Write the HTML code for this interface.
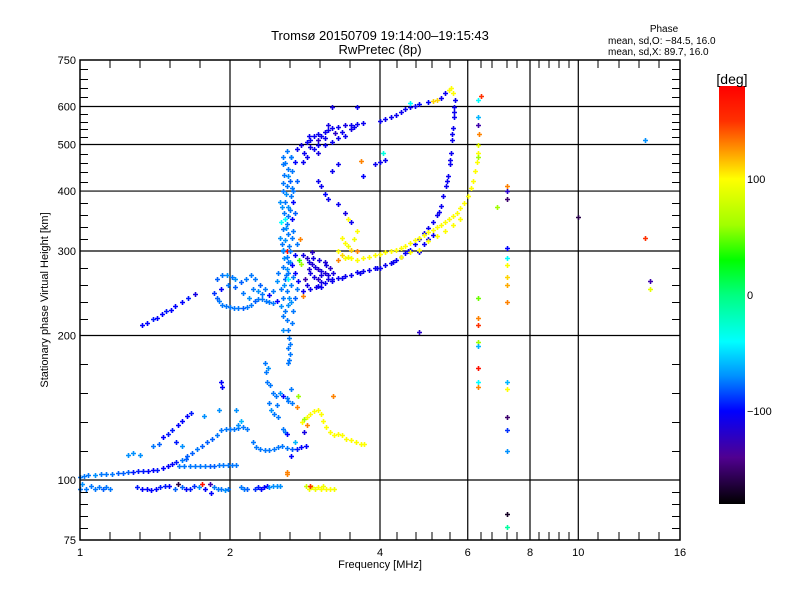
<!DOCTYPE html>
<html><head><meta charset="utf-8"><style>
body{margin:0;background:#fff;}
svg{display:block;font-family:"Liberation Sans",sans-serif;}
text{fill:#000;}
</style></head><body>
<svg id="chart" width="800" height="600" viewBox="0 0 800 600">
<rect width="800" height="600" fill="#fff"/>
<text x="380" y="40" font-size="13" text-anchor="middle">Tromsø 20150709 19:14:00–19:15:43</text>
<text x="380" y="54" font-size="13" text-anchor="middle">RwPretec (8p)</text>
<text x="664" y="32" font-size="10" text-anchor="middle">Phase</text>
<text x="608" y="44" font-size="10">mean, sd,O: −84.5, 16.0</text>
<text x="608" y="55" font-size="10">mean, sd,X:  89.7, 16.0</text>
<text x="380" y="568" font-size="11" text-anchor="middle">Frequency [MHz]</text>
<text transform="translate(48,300) rotate(-90)" font-size="11" text-anchor="middle">Stationary phase Virtual Height [km]</text>
<g id="grid"></g>
<g id="marks"></g>
<g id="axes"></g>
<defs><linearGradient id="cbg" x1="0" y1="1" x2="0" y2="0"></linearGradient></defs>
<rect x="719" y="86" width="26" height="418" fill="url(#cbg)"/>
<text x="732" y="84" font-size="14" text-anchor="middle">[deg]</text>
<g id="cbticks"></g>
</svg>
<script>
const xTickVals=[1,2,4,6,8,10,16];
const xGridVals=[2,4,6,8,10];
const yTickVals=[75,100,200,300,400,500,600,750];
const yGridVals=[100,200,300,400,500,600];
const cbarVals=[100,0,-100];
const eLow=[[1.0,96,-75],[1.01,98,-70],[1.03,96,-75],[1.05,97,-75],[1.07,96,-75],[1.09,96.5,-75],[1.11,96,-80],[1.13,96.5,-75],[1.15,96,-75],[1.3,96.5,-95],[1.33,96,-100],[1.36,96,-100],[1.39,95.5,-100],[1.42,96,-100],[1.45,96.5,-95],[1.48,97,-95],[1.51,97,-100],[1.55,96,-80],[1.6,96.5,-80],[1.63,96,-100],[1.66,96,-95],[1.69,97,-90],[1.73,96.5,-70],[1.78,96,-100],[1.86,96.5,-75],[1.89,96,-75],[1.92,96,-75],[1.95,95.5,-70],[1.98,96,-75],[2.1,96.5,-75],[2.13,96,-75],[2.16,96,-80],[2.25,96,-90],[2.28,96.5,-95],[2.31,96,-100],[2.34,96.5,-100],[2.37,97,-100],[2.40,96.5,-70],[2.44,97,-70],[2.48,97,-70],[2.52,97,-70],[1.57,98,-160],[1.76,98,170],[1.82,98,-130],[1.83,94,-100],
[2.84,97,80],[2.88,96,95],[2.92,96.5,95],[2.96,96,95],[3.0,96.5,100],[3.04,96,100],[3.08,97,95],[3.12,96,100],[3.18,96,100],[3.24,96,95],[2.9,97,150]];
const eTrace=[[1.0,101.5,-75],[1.02,102,-75],[1.04,102.5,-75],[1.07,102.5,-70],[1.1,103,-75],[1.13,103,-75],[1.16,103,-75],[1.19,103.5,-80],[1.22,103.5,-80],[1.25,104,-80],[1.28,104,-95],[1.31,104.5,-95],[1.34,104.5,-95],[1.37,104.5,-100],[1.4,105,-100],[1.43,105,-95],[1.47,106,-100],[1.5,107,-100],[1.53,108,-100],[1.56,109,-95],[1.6,110,-75],[1.63,110.5,-80],
[1.58,107,-75],[1.62,107,-75],[1.66,107,-75],[1.7,107,-75],[1.74,107,-75],[1.78,107,-75],[1.82,107,-80],[1.86,107,-80],[1.9,107.5,-75],[1.94,107.5,-75],[1.98,107.5,-75],[2.02,107.5,-75],[2.06,107.5,-75],
[1.64,112,-80],[1.68,114,-80],[1.72,116,-75],[1.76,118,-80],[1.8,120,-80],[1.84,122,-80],[1.88,124,-75],[1.92,127,-75],[1.96,128,-75],[2.0,128,-75],[2.04,128,-75],[2.08,128.5,-75],[2.12,129,-75],[2.16,128,-75],[2.22,120,-75],[2.26,117,-75],[2.3,116,-75],[2.35,115.5,-75],[2.4,115.5,-75],[2.45,116,-75],[2.5,117,-75],[2.54,118,-75],[2.6,116.5,-75],[2.66,116,-80],[2.72,116,-95],[2.78,117,-100],[2.84,118,-100],
[1.25,113,-70],[1.28,114,-70],[1.32,113,-70],[1.4,118,-75],[1.44,119,-80],[1.47,123,-100],[1.5,125,-95],[1.53,127,-95],[1.57,130,-100],[1.6,133,-100],[1.64,136,-100],[1.67,138,-95],[1.56,120,-95],[1.6,118,-70]];
const eColumn=[[2.35,175,-75],[2.36,168,-75],[2.37,160,-75],[2.4,145,-75],[2.42,140,-70],[2.45,137,-75],[2.5,135,-75],[2.55,128,-75],[2.58,126,-75],[2.6,125,-100],[2.44,152,-75],[2.47,150,-75],[2.52,152,-70],[2.56,150,-100],[2.6,148,-75],[2.62,146,-75],[2.65,155,-75],[2.66,145,-75],
[2.62,205,-75],[2.63,198,-75],[2.64,192,-75],[2.62,188,-75],[2.64,183,-75],[2.63,178,-75],[2.61,175,-75],
[1.92,160,-100],[1.93,156,-100],[2.08,130,-70],[2.1,133,-60],[2.06,140,-70],[1.77,136,-70],[1.9,140,-70],[2.7,120,-60],[2.82,126,-110],[2.74,150,60],[2.65,112,-100],[2.38,171,-70],[2.41,158,-75],[2.49,143,-75]];
const eYellow=[[2.79,132,100],[2.82,134,60],[2.86,135,100],[2.9,137,100],[2.95,139,100],[3.0,140,100],[3.04,137,100],[3.08,133,100],[3.12,129,100],[3.18,126,100],[3.24,124,100],[3.3,125,100],[3.36,124,100],[3.42,122,100],[3.5,121,100],[3.58,120,100],[3.66,119,100],[3.72,119,100],[2.85,130,130],[2.72,142,130],[2.6,103,130],[2.6,104,130],[3.22,150,130]];
const fLow=[[1.33,210,-100],[1.36,212,-100],[1.4,217,-95],[1.43,218,-100],[1.46,222,-100],[1.49,225,-95],[1.52,226,-100],[1.55,230,-100],[1.6,235,-100],[1.65,240,-95],[1.7,244,-110],
[1.86,245,-90],[1.88,240,-80],[1.9,236,-75],[1.93,232,-75],[1.96,230,-75],[2.0,229,-75],[2.04,228,-75],[2.08,228,-75],[2.12,228,-80],[2.16,229,-75],[2.2,232,-75],[2.24,236,-80],[2.28,238,-75],[2.32,238,-75],[2.36,236,-75],[2.4,235,-75],[2.44,234,-75],[2.48,236,-100],
[1.88,262,-80],[1.93,268,-75],[1.97,268,-70],[2.02,265,-75],[2.05,262,-70],[2.1,258,-80],[2.15,262,-75],[2.2,268,-75],[2.25,262,-75],[2.3,255,-80],[2.35,250,-75],[2.22,250,-75],[2.28,248,-70],[1.98,255,-75],[2.05,252,-80],[1.92,250,-100],[2.4,243,-100],[2.12,245,-75],[2.18,240,-70],[2.32,244,-75],[2.44,248,-75]];
const fColumn=[[2.55,205,-70],[2.6,215,-75],[2.58,225,-75],[2.62,232,-70],[2.55,240,-75],[2.6,248,-75],[2.65,255,-75],[2.58,262,-80],[2.62,270,-75],[2.56,278,-75],[2.64,285,-70],[2.6,292,-75],[2.55,300,-75],[2.63,308,-75],[2.58,316,-70],[2.62,325,-75],[2.55,333,-75],[2.6,342,-75],[2.66,350,-100],[2.57,360,-75],[2.62,370,-70],[2.58,380,-75],[2.65,390,-75],[2.55,400,-75],[2.6,410,-75],[2.64,420,-80],[2.57,432,-75],[2.62,445,-75],[2.58,458,-75],[2.55,470,-75],[2.6,485,-75],[2.7,295,-100],[2.72,310,-75],[2.68,330,-75],[2.7,360,-80],[2.66,280,-100],[2.7,270,-100],[2.74,260,-100],[2.52,320,-70],[2.52,380,-70],[2.68,400,-75],[2.72,420,-80],[2.66,440,-75],[2.7,460,-100],[2.53,250,-75],[2.5,270,-75],[2.48,260,-70],[2.67,225,-75],[2.7,240,-80],[2.57,290,-70],[2.6,300,170],[2.62,262,-40],[2.58,350,-40],[2.53,345,-40],[2.56,302,-70],[2.64,300,-75],[2.6,275,-70],[2.57,255,-70],[2.63,240,-70],[2.56,220,-75],[2.53,230,-70],[2.59,335,-70],[2.61,355,-75],[2.54,370,-70],[2.59,395,-70],[2.61,430,-70],[2.55,455,-75],[2.65,470,-70],[2.78,282,60],[2.76,318,130],[2.8,242,130],[2.75,288,40],
[2.66,212,-75],[2.68,265,-75],[2.66,320,-75],[2.54,310,-75],[2.64,365,-75],[2.68,380,-100],[2.56,415,-75],[2.66,405,-75],[2.59,268,-75],[2.61,284,-75],[2.72,250,-75],[2.65,235,-70]];
const fCluster=[[2.8,295,-110],[2.85,290,-120],[2.88,285,-110],[2.92,282,-115],[2.96,278,-110],[3.0,275,-120],[3.05,272,-110],[3.1,270,-115],[3.15,268,-110],[2.9,270,-110],[2.95,265,-110],[3.0,262,-120],[3.05,268,-110],[3.12,280,-110],[3.18,276,-120],[3.22,270,-110],[2.83,262,-130],[2.86,255,-110],[3.05,258,-110],[3.2,262,-105],[2.92,298,-120],[3.02,288,-110],[3.1,284,-115],[2.97,252,-110],[2.88,275,-115],[3.14,262,-110],[2.94,290,-110]];
const fMainO=[[2.8,248,-105],[2.9,250,-105],[3.0,254,-105],[3.1,257,-105],[3.2,260,-105],[3.3,263,-105],[3.4,266,-105],[3.5,268,-105],[3.6,271,-105],[3.7,273,-105],[3.8,274,-105],[3.9,276,-105],[4.0,277,-105],[4.1,280,-105],[4.2,283,-105],[4.3,288,-105],[4.4,292,-105],[4.5,297,-105],[4.6,302,-105],[4.7,310,-105],[4.8,318,-105],[4.9,327,-105],[5.0,335,-105],[5.1,345,-105],[5.2,357,-105],[5.3,372,-105],[5.36,390,-105],[5.42,410,-105],[5.48,430,-105],[5.52,455,-105],[5.56,480,-105],[5.58,510,-105],[5.6,540,-105],[5.62,570,-105],[5.64,600,-105],[5.66,620,-105],[4.9,310,-105],[5.0,318,-105],[5.1,324,-105],[4.8,298,-105],[3.05,252,-105],[3.35,264,-105],[3.65,270,-105],[3.95,277,-105],[4.25,285,-105],[4.55,300,-105],[5.25,362,-105],[5.45,420,-105],[5.54,465,-105],[5.59,525,-105],[5.63,585,-105]];
const fMainX=[[3.3,300,100],[3.35,295,110],[3.4,290,100],[3.45,292,95],[3.5,290,100],[3.6,287,100],[3.7,290,100],[3.8,292,100],[3.9,294,100],[4.0,296,100],[4.1,298,100],[4.2,300,100],[4.3,302,100],[4.4,305,100],[4.5,308,100],[4.6,312,100],[4.7,316,100],[4.8,320,100],[4.9,324,100],[5.0,328,100],[5.1,332,100],[5.2,336,100],[5.3,340,100],[5.4,345,100],[5.5,350,100],[5.6,355,100],[5.7,360,100],[5.8,368,100],[5.9,378,100],[6.0,390,100],[6.08,405,100],[6.15,420,100],[6.2,440,100],[6.25,460,100],[6.28,480,100],[6.3,500,90],[3.35,320,100],[3.4,312,100],[3.45,308,95],[3.5,302,110],[3.6,300,130],[3.3,288,130],[3.55,318,95],[4.4,292,100],[4.6,298,100],[4.8,302,100],[5.0,315,100],[5.2,322,100],[5.4,330,100],[5.6,340,100],[5.8,350,100]];
const f2Upper=[[2.65,470,-75],[2.72,490,-105],[2.78,500,-110],[2.85,505,-105],[2.9,512,-105],[2.95,520,-105],[3.0,525,-105],[3.05,520,-105],[3.1,530,-105],[3.15,535,-105],[3.2,540,-105],[3.3,545,-105],[3.4,548,-110],[3.5,550,-105],[3.6,552,-105],[3.7,555,-105],[3.4,520,-105],[3.3,515,-105],[3.2,505,-105],[3.1,500,-105],[2.95,490,-105],[2.85,470,-105],[2.8,460,-105],[3.0,480,-110],[4.0,560,-105],[4.1,565,-105],[4.2,570,-105],[4.3,575,-105],[4.4,585,-105],[4.5,592,-105],[4.6,598,-105],[4.7,602,-105],[4.8,608,-100],[5.0,612,-100],[5.1,615,110],[5.2,618,110],[5.3,625,-105],[5.4,640,-105],[5.5,650,100],[5.55,655,100],[5.6,640,100],[4.0,460,-105],[4.1,465,-105],[3.9,455,-105],[3.2,600,-110],[3.6,600,-105],[3.0,510,-120],[3.25,528,-120],[3.5,538,-110],[4.05,480,-30],[4.6,610,-40],
[2.82,480,-105],[2.9,495,-110],[3.0,500,-105],[3.1,515,-105],[3.35,532,-105],[3.55,545,-105],[2.88,520,-105],[3.15,550,-110]];
const fSparse=[[3.0,420,-105],[3.05,410,-105],[3.1,395,-100],[3.15,385,-105],[3.3,375,-105],[3.4,360,-110],[3.5,345,-105],[3.6,330,100],[3.45,350,100],[3.2,440,-105],[3.3,455,-105],[3.67,462,130],[3.7,430,-100],[4.8,203,-120]];
const farRight=[[6.28,620,-40],[6.3,570,-60],[6.3,550,-130],[6.32,525,130],[6.3,470,60],[6.3,194,60],[6.3,171,170],[6.3,156,130],[6.28,240,50],[6.3,218,130],[6.3,210,150],[6.3,190,-60],[6.3,160,-40],[6.38,630,150],
[7.2,410,130],[7.2,400,-120],[7.2,385,-150],[7.2,305,-100],[7.2,290,-40],[7.2,280,100],[7.2,265,110],[7.2,255,120],[7.2,235,130],[7.2,160,-60],[7.2,155,100],[7.2,135,-150],[7.2,127,-90],[7.2,115,-70],[7.2,85,-170],[7.2,80,-10],[6.86,370,60],[10.0,354,-160],[13.6,510,-70],[13.6,320,150],[13.9,260,-130],[13.9,250,90]];

const X0=80,X1=680,Y0=60,Y1=540;
function xs(f){return X0+150*Math.log2(f);}
function ys(h){return Y1-480*Math.log10(h/75);}
const stops=[[180,[255,0,0]],[150,[255,48,0]],[125,[255,150,0]],[100,[255,255,0]],[60,[160,255,0]],[30,[0,255,0]],[0,[0,255,128]],[-40,[0,255,255]],[-70,[0,144,255]],[-100,[0,0,255]],[-140,[80,0,144]],[-180,[0,0,0]]];
function pcol(p){
  for(let i=0;i<stops.length-1;i++){const a=stops[i],b=stops[i+1];
    if(p<=a[0]&&p>=b[0]){const t=(a[0]-p)/(a[0]-b[0]);
      const c=a[1].map((v,k)=>Math.round(v+(b[1][k]-v)*t));return `rgb(${c[0]},${c[1]},${c[2]})`;}}
  return p>180?'rgb(255,0,0)':'rgb(0,0,0)';}
const NS='http://www.w3.org/2000/svg';
function mk(tag,attrs,parent){const e=document.createElementNS(NS,tag);for(const k in attrs)e.setAttribute(k,attrs[k]);parent.appendChild(e);return e;}
const grid=document.getElementById('grid'),axes=document.getElementById('axes'),marks=document.getElementById('marks');
xGridVals.forEach(v=>{const l=mk('line',{x1:xs(v),x2:xs(v),y1:Y0,y2:Y1,stroke:'#000','stroke-width':1.2},grid);

});
yGridVals.forEach(v=>{const l=mk('line',{x1:X0,x2:X1,y1:ys(v),y2:ys(v),stroke:'#000','stroke-width':1.2},grid);

});
const series=[eLow,eTrace,eColumn,eYellow,fLow,fColumn,fCluster,fMainO,fMainX,f2Upper,fSparse,farRight];
series.forEach(s=>s.forEach(p=>{const x=Math.round(xs(p[0]))+0.5,y=Math.round(ys(p[1]))+0.5;
const m=mk('path',{d:`M${x-2.5} ${y}h5M${x} ${y-2.5}v5`,stroke:pcol(p[2]),'stroke-width':1.6},marks);

}));
const box=mk('rect',{x:X0,y:Y0,width:X1-X0,height:Y1-Y0,fill:'none',stroke:'#000','stroke-width':1.5},axes);


const xMinorPx=[110,140,170,200,260,290,320,350,397,416,432,450,481,492,507,517,539,549,559,569,598,619,639,659];
let tp='';
xMinorPx.forEach(x=>{tp+=`M${x} ${Y1}v-8M${x} ${Y0}v8`;});
for(let i=0;i<yTickVals.length-1;i++){const a=ys(yTickVals[i]),b=ys(yTickVals[i+1]);
  for(let k=1;k<5;k++){const y=Math.round(a+(b-a)*k/5)+0.5;tp+=`M${X0} ${y}h8M${X1} ${y}h-8`;}}
const tk=mk('path',{d:tp,stroke:'#000','stroke-width':1},axes);


xTickVals.forEach(v=>{const t=mk('text',{x:xs(v),y:556,'font-size':11,'text-anchor':'middle'},axes);t.textContent=v;

});
yTickVals.forEach(v=>{const t=mk('text',{x:76,y:ys(v)+4,'font-size':11,'text-anchor':'end'},axes);t.textContent=v;

});
const grad=document.getElementById('cbg');
stops.slice().reverse().forEach(s=>{mk('stop',{offset:((s[0]+180)/360*100)+'%','stop-color':pcol(s[0])},grad);});
const cbt=document.getElementById('cbticks');
function cby(v){return 86+(180-v)/360*418;}
cbarVals.forEach(v=>{const t=mk('text',{x:747,y:cby(v)+4,'font-size':11},cbt);t.textContent=v===-100?'−100':v;

});
</script>
</body></html>
